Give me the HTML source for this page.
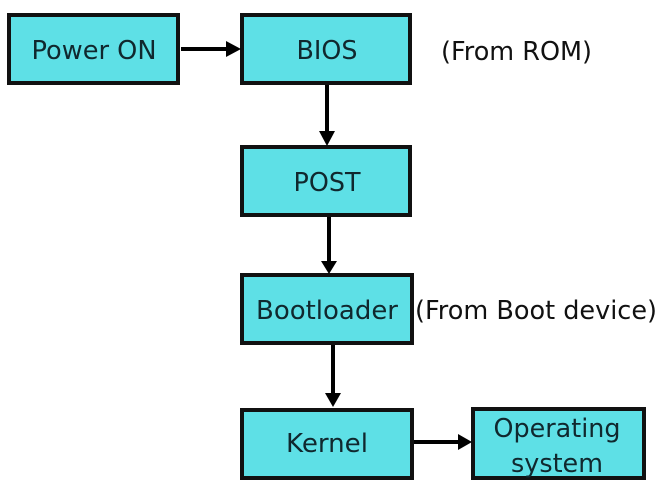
<!DOCTYPE html>
<html><head><style>html,body{margin:0;padding:0;background:#fff}svg{display:block}</style></head>
<body>
<svg width="667" height="494" viewBox="0 0 667 494" xmlns="http://www.w3.org/2000/svg" font-family="DejaVu Sans, Liberation Sans, sans-serif" font-size="26">
<g fill="#5ee0e6" stroke="#111" stroke-width="4">
<rect x="9" y="15" width="169" height="68"/>
<rect x="242" y="15" width="168" height="68"/>
<rect x="242" y="147" width="168" height="68"/>
<rect x="242" y="275" width="170" height="68"/>
<rect x="242" y="410" width="170" height="68"/>
<rect x="473" y="409" width="171" height="69"/>
</g>
<g stroke="#000" stroke-width="4" fill="none">
<line x1="181" y1="49" x2="228" y2="49"/>
<line x1="327" y1="85" x2="327" y2="133"/>
<line x1="329" y1="217" x2="329" y2="262"/>
<line x1="333" y1="345" x2="333" y2="395"/>
<line x1="414" y1="442" x2="460" y2="442"/>
</g>
<g fill="#000">
<polygon points="226,41 241,49 226,57"/>
<polygon points="319,131 335,131 327,146"/>
<polygon points="321,261 337,261 329,274"/>
<polygon points="325,393 341,393 333,407"/>
<polygon points="458,434 472,442 458,450"/>
</g>
<g fill="#10282e" text-anchor="middle">
<text x="94" y="59" textLength="125" lengthAdjust="spacingAndGlyphs">Power ON</text>
<text x="327" y="59" textLength="61" lengthAdjust="spacingAndGlyphs">BIOS</text>
<text x="327" y="191" textLength="67" lengthAdjust="spacingAndGlyphs">POST</text>
<text x="327" y="319" textLength="142" lengthAdjust="spacingAndGlyphs">Bootloader</text>
<text x="327" y="452" textLength="82" lengthAdjust="spacingAndGlyphs">Kernel</text>
<text x="557" y="437" textLength="127" lengthAdjust="spacingAndGlyphs">Operating</text>
<text x="557" y="472" textLength="92" lengthAdjust="spacingAndGlyphs">system</text>
</g>
<g fill="#111">
<text x="441" y="60" textLength="151" lengthAdjust="spacingAndGlyphs">(From ROM)</text>
<text x="415" y="319" textLength="242" lengthAdjust="spacingAndGlyphs">(From Boot device)</text>
</g>
</svg>
</body></html>
